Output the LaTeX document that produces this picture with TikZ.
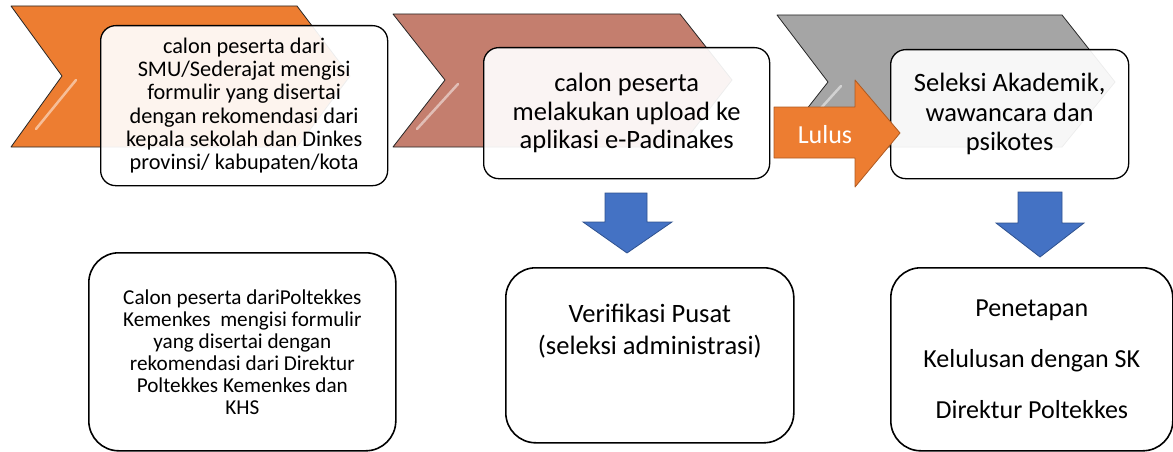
\documentclass[tikz,border=0pt]{standalone}
\usepackage{fontspec}
\setmainfont{Carlito}
\usetikzlibrary{positioning,calc}
\definecolor{step1}{RGB}{237,125,49}
\definecolor{step2}{RGB}{196,126,110}
\definecolor{step3}{RGB}{165,165,165}
\definecolor{downblue}{RGB}{68,114,196}
\definecolor{downedge}{RGB}{47,82,143}
\definecolor{lulusedge}{RGB}{174,90,33}

\begin{document}
\begin{tikzpicture}[x=1pt, y=-1pt,
    chev/.style={draw=black!85, line width=0.8pt, line join=round},
    shine/.style={white, line width=2.5pt, line cap=round, opacity=0.5},
    card/.style={draw, line width=1.3pt, rounded corners=15pt, fill=white, fill opacity=0.92, text opacity=1, anchor=north west, align=center, inner sep=0pt},
    panel/.style={draw, line width=1.6pt, rounded corners=30pt, fill=white, anchor=north west, align=center, inner sep=0pt},
    txt/.style={align=center, inner sep=0pt},
    blockdown/.style={fill=downblue, draw=downedge, line width=0.8pt}
]
\useasboundingbox (0,0) rectangle (1173,452);

% Chevrons
\draw[chev, fill=step1] (11,6) -- (297,6) -- (350,76) -- (297,147) -- (11,147) -- (62,76) -- cycle;
\draw[shine] (36,129) -- (76,80);
\draw[chev, fill=step2] (393,14) -- (680,14) -- (732,80) -- (680,147) -- (393,147) -- (445,80) -- cycle;
\draw[shine] (417,129) -- (458,84);
\draw[chev, fill=step3] (777,15) -- (1062,15) -- (1115,82) -- (1062,147) -- (777,147) -- (828,82) -- cycle;
\draw[shine] (802,129) -- (841,86);

% Top boxes
\node[card, minimum width=287pt, minimum height=160pt, font=\fontsize{22.3}{23.3}\selectfont] (sekolah) at (100,25)
  {calon peserta dari\\SMU/Sederajat mengisi\\formulir yang disertai\\dengan rekomendasi dari\\kepala sekolah dan Dinkes\\provinsi/ kabupaten/kota};
\node[card, minimum width=286pt, minimum height=131pt, font=\fontsize{26.5}{28.5}\selectfont] (upload) at (483,47)
  {calon peserta\\melakukan upload ke\\aplikasi e-Padinakes};
\node[card, minimum width=238pt, minimum height=129pt, font=\fontsize{26.5}{29.5}\selectfont] (seleksi) at (890,49)
  {Seleksi Akademik,\\wawancara dan\\psikotes};

% Lulus arrow
\draw[fill=step1, draw=lulusedge, line width=0.8pt, line join=round]
  (774,107) -- (855,107) -- (855,80) -- (900,133) -- (855,187) -- (855,158) -- (774,158) -- cycle;
\node[txt, white, font=\fontsize{26}{28}\selectfont] (lulus) at (825,135) {Lulus};

% Bottom boxes
\node[panel, minimum width=307pt, minimum height=198pt, font=\fontsize{21.2}{22}\selectfont] (poltekkes) at (88,252)
  {Calon peserta dariPoltekkes\\Kemenkes\ \ mengisi formulir\\yang disertai dengan\\rekomendasi dari Direktur\\Poltekkes Kemenkes dan\\KHS};
\node[panel, minimum width=288pt, minimum height=175pt] (verif) at (505,267) {};
\node[txt, font=\fontsize{26.5}{32}\selectfont] (verifText) at ($(verif.north)+(0,64)$)
  {Verifikasi Pusat\\(seleksi administrasi)};
\node[panel, minimum width=282pt, minimum height=183pt, font=\fontsize{26}{51}\selectfont] (penetapan) at (890,267)
  {Penetapan\\Kelulusan dengan SK\\Direktur Poltekkes};

% Down arrows
\draw[blockdown] (605,193) -- (647,193) -- (647,222) -- (672,222) -- (627,253) -- (583,222) -- (605,222) -- cycle;
\draw[blockdown] (1018,192) -- (1062,192) -- (1062,223) -- (1084,223) -- (1040,257) -- (996,223) -- (1018,223) -- cycle;

\end{tikzpicture}
\end{document}
